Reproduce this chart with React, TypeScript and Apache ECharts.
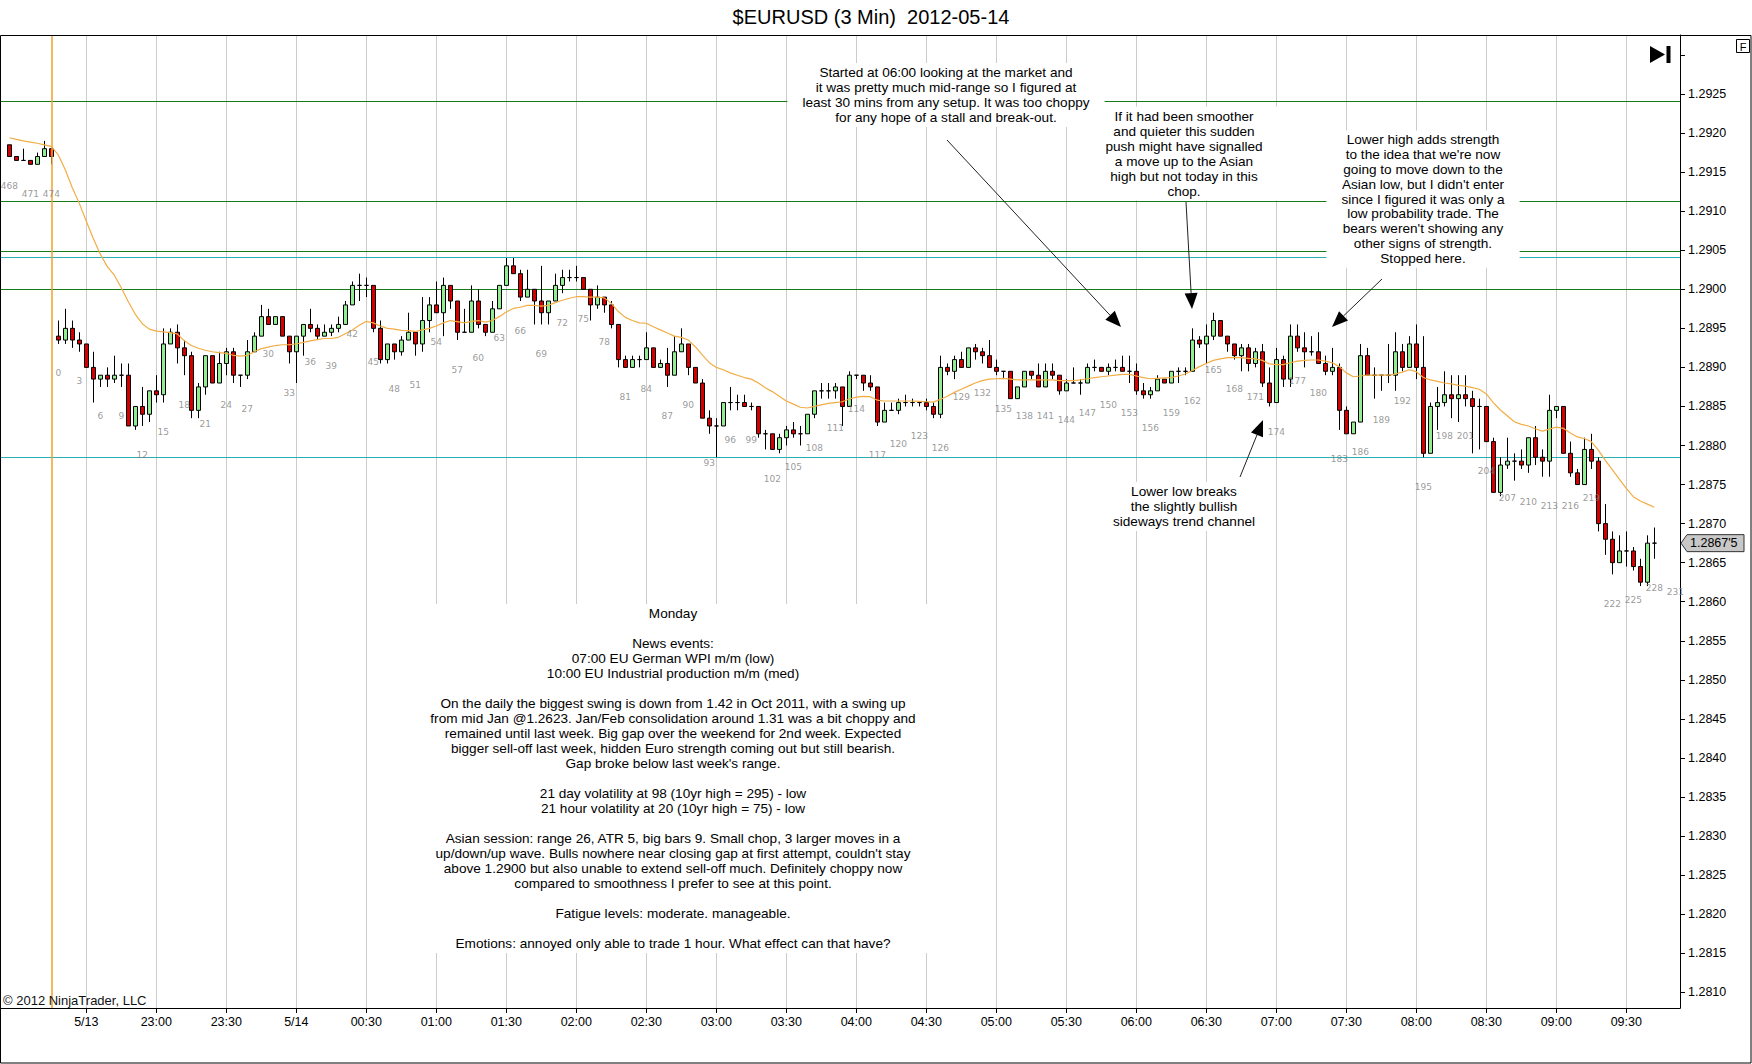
import React, { useEffect, useRef } from "react";
import * as echarts from "echarts";

// ---------------- DATA ----------------
const priorSessionBars = [468, 469, 470, 471, 472, 473, 474];
const sessionBarCount = 232; // bar numbers 0..231 on the axis

// [open, high, low, close]
const priorSessionOHLC: number[][] = [
  [1.29185, 1.29185, 1.2917, 1.2917], [1.2917, 1.2917, 1.29165, 1.29165], [1.29165, 1.2918, 1.29165, 1.29165],
  [1.29165, 1.29165, 1.2916, 1.2916], [1.2916, 1.29175, 1.2916, 1.2917], [1.2917, 1.2919, 1.2917, 1.2918],
  [1.2918, 1.2918, 1.2916, 1.2917],
];

const sessionOHLC: number[][] = [
  [1.2894, 1.2896, 1.2893, 1.28935], [1.28935, 1.28975, 1.2893, 1.2895], [1.2895, 1.2896, 1.28925, 1.28935], [1.28935, 1.28945, 1.2892, 1.2893],
  [1.2893, 1.2893, 1.289, 1.289], [1.289, 1.2892, 1.28855, 1.28885], [1.28885, 1.2889, 1.28875, 1.2889], [1.2889, 1.289, 1.28875, 1.28885],
  [1.28885, 1.28915, 1.2888, 1.2889], [1.2889, 1.28905, 1.28875, 1.2889], [1.2889, 1.28905, 1.28825, 1.28825], [1.28825, 1.2885, 1.2882, 1.2885],
  [1.2885, 1.28875, 1.28825, 1.2884], [1.2884, 1.2887, 1.2883, 1.2887], [1.2887, 1.2889, 1.28855, 1.28865], [1.28865, 1.2895, 1.28855, 1.2893],
  [1.2893, 1.2895, 1.2893, 1.28945], [1.28945, 1.28955, 1.28905, 1.28925], [1.28925, 1.28935, 1.2889, 1.28915], [1.28915, 1.2892, 1.28835, 1.28845],
  [1.28845, 1.2888, 1.28835, 1.28875], [1.28875, 1.28915, 1.28865, 1.28915], [1.28915, 1.28915, 1.2888, 1.2888], [1.2888, 1.2892, 1.2888, 1.28905],
  [1.28905, 1.28925, 1.2889, 1.2892], [1.2892, 1.28925, 1.2888, 1.2889], [1.2889, 1.2889, 1.28875, 1.2889], [1.2889, 1.28935, 1.28885, 1.2892],
  [1.2892, 1.28945, 1.2892, 1.2894], [1.2894, 1.2898, 1.2894, 1.28965], [1.28965, 1.28975, 1.28955, 1.28955], [1.28955, 1.28965, 1.28955, 1.28965],
  [1.28965, 1.28965, 1.2894, 1.2894], [1.2894, 1.2894, 1.28905, 1.2892], [1.2892, 1.2894, 1.2888, 1.2894], [1.2894, 1.28955, 1.28915, 1.28955],
  [1.28955, 1.28975, 1.28945, 1.2895], [1.2895, 1.28955, 1.28935, 1.2894], [1.2894, 1.28955, 1.2894, 1.28945], [1.28945, 1.28955, 1.2894, 1.2895],
  [1.2895, 1.28965, 1.28945, 1.28955], [1.28955, 1.28985, 1.28955, 1.2898], [1.2898, 1.2901, 1.2898, 1.29005], [1.29005, 1.2902, 1.28985, 1.29005],
  [1.29005, 1.29015, 1.2899, 1.29005], [1.29005, 1.29005, 1.28945, 1.2895], [1.2895, 1.2896, 1.28905, 1.2891], [1.2891, 1.2893, 1.28905, 1.2893],
  [1.2893, 1.2893, 1.2891, 1.2892], [1.2892, 1.2894, 1.28915, 1.28935], [1.28935, 1.2897, 1.28935, 1.28945], [1.28945, 1.28945, 1.28915, 1.2893],
  [1.2893, 1.2899, 1.2892, 1.2896], [1.2896, 1.2899, 1.28945, 1.2898], [1.2898, 1.2901, 1.2897, 1.2897], [1.2897, 1.29015, 1.2894, 1.29005],
  [1.29005, 1.29005, 1.28975, 1.28985], [1.28985, 1.28985, 1.28935, 1.28945], [1.28945, 1.28975, 1.28945, 1.28945], [1.28945, 1.29005, 1.28945, 1.28985],
  [1.28985, 1.29, 1.2895, 1.28955], [1.28955, 1.28955, 1.2894, 1.28945], [1.28945, 1.28985, 1.28945, 1.28975], [1.28975, 1.29005, 1.28975, 1.29005],
  [1.29005, 1.2904, 1.29005, 1.2903], [1.2903, 1.2904, 1.2902, 1.2902], [1.2902, 1.29025, 1.28985, 1.2899], [1.2899, 1.29025, 1.2899, 1.29],
  [1.29, 1.29, 1.28955, 1.28985], [1.28985, 1.2903, 1.28955, 1.2897], [1.2897, 1.28985, 1.28955, 1.28985], [1.28985, 1.2902, 1.28985, 1.29005],
  [1.29005, 1.29025, 1.28995, 1.29015], [1.29015, 1.29025, 1.2901, 1.29015], [1.29015, 1.2903, 1.2901, 1.29015], [1.29015, 1.29015, 1.29, 1.29],
  [1.29, 1.29, 1.2896, 1.2898], [1.2898, 1.29005, 1.28975, 1.2899], [1.2899, 1.2899, 1.2897, 1.2898], [1.2898, 1.28985, 1.2895, 1.28955],
  [1.28955, 1.28955, 1.289, 1.2891], [1.2891, 1.28915, 1.289, 1.289], [1.289, 1.28915, 1.289, 1.2891], [1.2891, 1.28915, 1.289, 1.2891],
  [1.2891, 1.28945, 1.2891, 1.28925], [1.28925, 1.28925, 1.289, 1.289], [1.289, 1.2891, 1.289, 1.28905], [1.28905, 1.28925, 1.28875, 1.2889],
  [1.2889, 1.2894, 1.2889, 1.2892], [1.2892, 1.2895, 1.2892, 1.2893], [1.2893, 1.2893, 1.2889, 1.289], [1.289, 1.289, 1.2888, 1.2888],
  [1.2888, 1.28885, 1.28835, 1.28835], [1.28835, 1.28845, 1.28815, 1.28825], [1.28825, 1.28835, 1.28785, 1.28825], [1.28825, 1.28855, 1.28825, 1.28855],
  [1.28855, 1.28875, 1.28845, 1.28855], [1.28855, 1.28865, 1.28845, 1.28855], [1.28855, 1.28865, 1.2885, 1.2885], [1.2885, 1.28855, 1.28845, 1.2885],
  [1.2885, 1.2885, 1.2881, 1.28815], [1.28815, 1.2882, 1.28795, 1.28815], [1.28815, 1.28815, 1.28795, 1.28795], [1.28795, 1.28815, 1.2879, 1.2881],
  [1.2881, 1.28825, 1.288, 1.2882], [1.2882, 1.2883, 1.2881, 1.28815], [1.28815, 1.28825, 1.288, 1.28815], [1.28815, 1.2884, 1.28815, 1.2884],
  [1.2884, 1.2887, 1.28835, 1.2887], [1.2887, 1.2888, 1.2886, 1.2887], [1.2887, 1.2888, 1.2886, 1.2887], [1.2887, 1.2888, 1.2886, 1.28875],
  [1.28875, 1.28875, 1.28825, 1.2885], [1.2885, 1.28895, 1.2885, 1.2889], [1.2889, 1.2889, 1.28885, 1.2889], [1.2889, 1.2889, 1.2887, 1.2888],
  [1.2888, 1.2889, 1.2887, 1.28875], [1.28875, 1.28875, 1.28825, 1.2883], [1.2883, 1.28855, 1.2883, 1.28845], [1.28845, 1.28855, 1.28845, 1.28845],
  [1.28845, 1.2886, 1.2884, 1.28855], [1.28855, 1.28865, 1.2885, 1.28855], [1.28855, 1.2886, 1.2885, 1.28855], [1.28855, 1.28855, 1.2885, 1.28855],
  [1.28855, 1.2886, 1.28845, 1.2885], [1.2885, 1.28855, 1.28835, 1.2884], [1.2884, 1.28915, 1.28835, 1.289], [1.289, 1.28905, 1.2889, 1.28895],
  [1.28895, 1.28915, 1.28885, 1.2891], [1.2891, 1.2892, 1.289, 1.289], [1.289, 1.28925, 1.289, 1.28925], [1.28925, 1.2893, 1.2891, 1.2892],
  [1.2892, 1.28925, 1.28905, 1.28915], [1.28915, 1.28935, 1.289, 1.289], [1.289, 1.2891, 1.2889, 1.28895], [1.28895, 1.28895, 1.28885, 1.28895],
  [1.28895, 1.28895, 1.2886, 1.2886], [1.2886, 1.28875, 1.2886, 1.28875], [1.28875, 1.28895, 1.28875, 1.28895], [1.28895, 1.28895, 1.28885, 1.2889],
  [1.2889, 1.28905, 1.28875, 1.28875], [1.28875, 1.28905, 1.28875, 1.28895], [1.28895, 1.28905, 1.28885, 1.2889], [1.2889, 1.2889, 1.28865, 1.2887],
  [1.2887, 1.28885, 1.2887, 1.2888], [1.2888, 1.289, 1.2888, 1.2888], [1.2888, 1.28885, 1.28865, 1.2888], [1.2888, 1.28905, 1.2888, 1.289],
  [1.289, 1.2891, 1.28895, 1.289], [1.289, 1.289, 1.28895, 1.28895], [1.28895, 1.28905, 1.2889, 1.289], [1.289, 1.2891, 1.28895, 1.289],
  [1.289, 1.28915, 1.28895, 1.28895], [1.28895, 1.28915, 1.2888, 1.28895], [1.28895, 1.28905, 1.28865, 1.2887], [1.2887, 1.2888, 1.2886, 1.28865],
  [1.28865, 1.28875, 1.2886, 1.2887], [1.2887, 1.2889, 1.2887, 1.28885], [1.28885, 1.28885, 1.2888, 1.2888], [1.2888, 1.28895, 1.2888, 1.28895],
  [1.28895, 1.289, 1.2888, 1.28895], [1.28895, 1.289, 1.2889, 1.28895], [1.28895, 1.2895, 1.28895, 1.28935], [1.28935, 1.2894, 1.28925, 1.2893],
  [1.2893, 1.28955, 1.28905, 1.2894], [1.2894, 1.2897, 1.28935, 1.2896], [1.2896, 1.2896, 1.2894, 1.2894], [1.2894, 1.2894, 1.2892, 1.2893],
  [1.2893, 1.2893, 1.2891, 1.28915], [1.28915, 1.2893, 1.28895, 1.28925], [1.28925, 1.2893, 1.28895, 1.28905], [1.28905, 1.28925, 1.289, 1.2892],
  [1.2892, 1.2893, 1.28875, 1.2888], [1.2888, 1.289, 1.2885, 1.28855], [1.28855, 1.28925, 1.28855, 1.2891], [1.2891, 1.28915, 1.28875, 1.28885],
  [1.28885, 1.28955, 1.28875, 1.2894], [1.2894, 1.28955, 1.2892, 1.28925], [1.28925, 1.28945, 1.289, 1.2892], [1.2892, 1.2894, 1.28915, 1.2892],
  [1.2892, 1.28945, 1.28905, 1.28905], [1.28905, 1.28915, 1.2889, 1.28895], [1.28895, 1.28925, 1.2889, 1.289], [1.289, 1.28905, 1.2882, 1.28845],
  [1.28845, 1.2885, 1.28815, 1.28815], [1.28815, 1.2883, 1.28815, 1.2883], [1.2883, 1.2893, 1.2883, 1.28915], [1.28915, 1.28925, 1.2889, 1.2889],
  [1.2889, 1.289, 1.2886, 1.2889], [1.2889, 1.2889, 1.2887, 1.2889], [1.2889, 1.2893, 1.2888, 1.2889], [1.2889, 1.28945, 1.2887, 1.2892],
  [1.2892, 1.2893, 1.28895, 1.289], [1.289, 1.2894, 1.289, 1.2893], [1.2893, 1.28955, 1.28885, 1.289], [1.289, 1.2894, 1.28785, 1.2879],
  [1.2879, 1.28855, 1.2879, 1.2885], [1.2885, 1.28875, 1.2882, 1.28855], [1.28855, 1.28895, 1.2885, 1.28865], [1.28865, 1.2889, 1.28835, 1.2886],
  [1.2886, 1.2889, 1.2883, 1.28865], [1.28865, 1.2889, 1.2885, 1.2886], [1.2886, 1.2887, 1.2879, 1.2885], [1.2885, 1.2886, 1.28795, 1.2885],
  [1.2885, 1.2885, 1.28805, 1.28805], [1.28805, 1.2881, 1.2874, 1.2874], [1.2874, 1.28785, 1.28735, 1.28775], [1.28775, 1.2881, 1.2877, 1.2878],
  [1.2878, 1.2879, 1.28755, 1.2878], [1.2878, 1.28795, 1.2877, 1.28775], [1.28775, 1.2881, 1.28765, 1.2881], [1.2881, 1.28825, 1.28775, 1.28785],
  [1.28785, 1.28795, 1.2876, 1.2878], [1.2878, 1.28865, 1.2876, 1.28845], [1.28845, 1.2885, 1.28835, 1.2885], [1.2885, 1.2885, 1.2879, 1.2879],
  [1.2879, 1.28805, 1.2876, 1.28765], [1.28765, 1.2877, 1.2875, 1.2875], [1.2875, 1.2881, 1.2875, 1.28795], [1.28795, 1.28815, 1.2877, 1.2878],
  [1.2878, 1.28785, 1.2869, 1.287], [1.287, 1.28725, 1.2866, 1.2868], [1.2868, 1.2869, 1.28635, 1.2865], [1.2865, 1.28685, 1.2865, 1.28665],
  [1.28665, 1.2869, 1.28645, 1.28665], [1.28665, 1.2867, 1.2864, 1.28645], [1.28645, 1.28655, 1.2862, 1.28625], [1.28625, 1.28685, 1.2862, 1.28675],
  [1.28675, 1.28695, 1.28655, 1.28675],
];

// orange moving-average line, one value per drawn bar (468..474, 0..228)
const emaValues: number[] = [
  1.29194, 1.29192, 1.2919, 1.291885, 1.29187, 1.29185, 1.29183,
  1.29172, 1.29153, 1.2913, 1.2911, 1.29087, 1.29065, 1.29045, 1.29029, 1.29018, 1.29002,
  1.28984, 1.28968, 1.28956, 1.28949, 1.289465, 1.289455, 1.289445, 1.28943, 1.28934, 1.28928,
  1.289245, 1.28922, 1.2892, 1.28919, 1.28918, 1.289155, 1.289145, 1.289155, 1.2892, 1.28924,
  1.28926, 1.28928, 1.28929, 1.28929, 1.2893, 1.28932, 1.28934, 1.289355, 1.28937, 1.28937,
  1.289385, 1.28943, 1.28948, 1.28954, 1.28959, 1.28957, 1.28953, 1.2895, 1.28949, 1.289475,
  1.28947, 1.28946, 1.28948, 1.2895, 1.28953, 1.28957, 1.2896, 1.289585, 1.28957, 1.28959,
  1.2896, 1.28958, 1.2896, 1.28965, 1.28971, 1.289755, 1.28977, 1.289795, 1.289795, 1.289785,
  1.289795, 1.28983, 1.28986, 1.289885, 1.289905, 1.289905, 1.2899, 1.2899, 1.28989, 1.28982,
  1.289715, 1.28964, 1.2896, 1.28957, 1.289565, 1.28952, 1.28948, 1.28944, 1.2894, 1.289385,
  1.28935, 1.289265, 1.28916, 1.28906, 1.289, 1.28897, 1.28893, 1.2889, 1.28887, 1.28885,
  1.2888, 1.28874, 1.28869, 1.28863, 1.28857, 1.28853, 1.28849, 1.28848, 1.2885, 1.28852,
  1.28854, 1.28855, 1.28856, 1.288595, 1.28862, 1.28863, 1.288625, 1.28858, 1.28857, 1.28857,
  1.28857, 1.28857, 1.28857, 1.288565, 1.28856, 1.288555, 1.28859, 1.28863, 1.28868, 1.28872,
  1.28876, 1.2888, 1.28883, 1.28885, 1.288855, 1.28886, 1.28885, 1.28884, 1.28884, 1.28884,
  1.28884, 1.28884, 1.28884, 1.28883, 1.28883, 1.28883, 1.28884, 1.288855, 1.28887, 1.28888,
  1.28889, 1.2889, 1.28891, 1.28891, 1.28889, 1.28887, 1.288855, 1.28886, 1.288865, 1.28887,
  1.28889, 1.288915, 1.28896, 1.28901, 1.28905, 1.28909, 1.28911, 1.289125, 1.289125, 1.289125,
  1.289115, 1.28911, 1.28909, 1.289045, 1.289035, 1.289035, 1.28906, 1.28908, 1.28909, 1.289095,
  1.289095, 1.28908, 1.28906, 1.28901, 1.28893, 1.28888, 1.28889, 1.2889, 1.2889, 1.2889,
  1.2889, 1.288915, 1.28894, 1.28897, 1.288945, 1.28887, 1.28884, 1.28882, 1.2888, 1.28879,
  1.28877, 1.28876, 1.28874, 1.28872, 1.28866, 1.28855, 1.288455, 1.28838, 1.288305, 1.28827,
  1.28825, 1.288215, 1.288185, 1.28821, 1.288235, 1.28822, 1.28816, 1.28811, 1.28809, 1.28805,
  1.28794, 1.28781, 1.28769, 1.28757, 1.28745, 1.287345, 1.28729, 1.28725, 1.28721,
];

const timeTickLabels = [
  "5/13", "23:00", "23:30", "5/14", "00:30", "01:00", "01:30", "02:00", "02:30", "03:00", "03:30", "04:00",
  "04:30", "05:00", "05:30", "06:00", "06:30", "07:00", "07:30", "08:00", "08:30", "09:00", "09:30",
];
const firstTickBar = 4;
const barsPerTick = 10;
const barNumberStep = 3;

const yLabelValues = [
  1.281, 1.2815, 1.282, 1.2825, 1.283, 1.2835, 1.284, 1.2845, 1.285, 1.2855, 1.286, 1.2865,
  1.287, 1.2875, 1.288, 1.2885, 1.289, 1.2895, 1.29, 1.2905, 1.291, 1.2915, 1.292, 1.2925,
];
const yTickValues = [...yLabelValues, 1.293];

const greenLevels = [1.2924, 1.29113, 1.29048, 1.29];
const tealLevels = [1.29041, 1.28785];
const sessionBreakBar = 474;
const lastBarNumber = 231;
const lastBarNumberAnchor = 1.2865;

// ---------------- TEXT ----------------
const note1 = [
  "Started at 06:00 looking at the market and",
  "it was pretty much mid-range so I figured at",
  "least 30 mins from any setup. It was too choppy",
  "for any hope of a stall and break-out.",
];
const note2 = [
  "If it had been smoother",
  "and quieter this sudden",
  "push might have signalled",
  "a move up to the Asian",
  "high but not today in this",
  "chop.",
];
const note3 = [
  "Lower high adds strength",
  "to the idea that we're now",
  "going to move down to the",
  "Asian low, but I didn't enter",
  "since I figured it was only a",
  "low probability trade. The",
  "bears weren't showing any",
  "other signs of strength.",
  "Stopped here.",
];
const note4 = ["Lower low breaks", "the slightly bullish", "sideways trend channel"];
const mainNote = [
  "Monday",
  "",
  "News events:",
  "07:00 EU German WPI m/m (low)",
  "10:00 EU Industrial production m/m (med)",
  "",
  "On the daily the biggest swing is down from 1.42 in Oct 2011, with a swing up",
  "from mid Jan @1.2623. Jan/Feb consolidation around 1.31 was a bit choppy and",
  "remained until last week. Big gap over the weekend for 2nd week. Expected",
  "bigger sell-off last week, hidden Euro strength coming out but still bearish.",
  "Gap broke below last week's range.",
  "",
  "21 day volatility at 98 (10yr high = 295) - low",
  "21 hour volatility at 20 (10yr high = 75) - low",
  "",
  "Asian session: range 26, ATR 5, big bars 9. Small chop, 3 larger moves in a",
  "up/down/up wave. Bulls nowhere near closing gap at first attempt, couldn't stay",
  "above 1.2900 but also unable to extend sell-off much. Definitely choppy now",
  "compared to smoothness I prefer to see at this point.",
  "",
  "Fatigue levels: moderate. manageable.",
  "",
  "Emotions: annoyed only able to trade 1 hour. What effect can that have?",
];

const FONT = '"Liberation Sans", Arial, sans-serif';
const NOTE_FONT_SIZE = 13.6;
const W = 1752;
const H = 1064;
const PLOT_RIGHT = 1680;
const PLOT_TOP = 35;
const PLOT_BOTTOM = 1008;

function noteText(lines: string[], cx: number, firstLineY: number, lh: number) {
  return {
    type: "text",
    x: cx,
    y: firstLineY - lh / 2 - 2,
    z: 90,
    silent: true,
    style: {
      text: lines.join("\n"),
      fill: "#000",
      fontSize: NOTE_FONT_SIZE,
      fontFamily: FONT,
      align: "center",
      textAlign: "center",
      verticalAlign: "top",
      textVerticalAlign: "top",
      lineHeight: lh,
      backgroundColor: "#fff",
      padding: [2, 15],
    },
  };
}

function arrow(x1: number, y1: number, x2: number, y2: number) {
  const dx = x2 - x1;
  const dy = y2 - y1;
  const len = Math.hypot(dx, dy);
  const ux = dx / len;
  const uy = dy / len;
  const hl = 16;
  const hw = 6.5;
  const bx = x2 - ux * hl;
  const by = y2 - uy * hl;
  return [
    { type: "line", z: 100, silent: true, shape: { x1, y1, x2: bx, y2: by }, style: { stroke: "#222", lineWidth: 1 } },
    {
      type: "polygon",
      z: 100,
      silent: true,
      shape: { points: [[x2, y2], [bx - uy * hw, by + ux * hw], [bx + uy * hw, by - ux * hw]] },
      style: { fill: "#000" },
    },
  ];
}

export default function App() {
  const ref = useRef<HTMLDivElement>(null);

  useEffect(() => {
    if (!ref.current) return;
    const chart = echarts.init(ref.current, null, { renderer: "svg" });

    const barNumbers = [...priorSessionBars, ...Array.from({ length: sessionBarCount }, (_, i) => i)];
    const categories = barNumbers.map(String);
    const allOHLC = [...priorSessionOHLC, ...sessionOHLC];
    const candleData = allOHLC.map(([o, h, l, c]) => [o, c, l, h]);
    const tickStart = priorSessionBars.length + firstTickBar;
    const isTick = (i: number) =>
      i >= tickStart && (i - tickStart) % barsPerTick === 0 && (i - tickStart) / barsPerTick < timeTickLabels.length;

    const labelData: any[] = [];
    barNumbers.forEach((n, k) => {
      if (n % barNumberStep !== 0) return;
      if (k < allOHLC.length) labelData.push([k, allOHLC[k][2], n]);
    });
    labelData.push([barNumbers.indexOf(lastBarNumber), lastBarNumberAnchor, lastBarNumber]);

    // grid: first category at x=9.3, last at x=1675.3 (7px per bar)
    const gridLeft = 9.3;
    const gridRight = W - 1675.3;

    chart.setOption({
      animation: false,
      backgroundColor: "#fff",
      grid: { left: gridLeft, right: gridRight, top: PLOT_TOP, bottom: H - PLOT_BOTTOM, containLabel: false },
      xAxis: {
        type: "category",
        data: categories,
        boundaryGap: false,
        axisLine: { show: false },
        axisTick: { show: true, interval: (i: number) => isTick(i), length: 5, lineStyle: { color: "#000" } },
        axisLabel: {
          show: true,
          interval: (i: number) => isTick(i),
          formatter: (_v: string, i: number) => (isTick(i) ? timeTickLabels[(i - tickStart) / barsPerTick] : ""),
          color: "#000",
          fontSize: 12.5,
          fontFamily: FONT,
          margin: 7,
          hideOverlap: false,
        },
        splitLine: { show: true, interval: (i: number) => isTick(i), lineStyle: { color: "#cccccc", width: 1 } },
      },
      yAxis: {
        type: "value",
        position: "right",
        min: 1.2807986,
        max: 1.2932556,
        offset: PLOT_RIGHT - (W - gridRight),
        axisLine: { show: true, lineStyle: { color: "#000", width: 1 } },
        axisTick: { show: true, length: 5, customValues: yTickValues, lineStyle: { color: "#000" } },
        axisLabel: {
          show: true,
          customValues: yLabelValues,
          formatter: (v: number) => v.toFixed(4),
          color: "#000",
          fontSize: 12.5,
          fontFamily: FONT,
          margin: 8,
        },
        splitLine: { show: false },
      },
      series: [
        {
          type: "candlestick",
          data: candleData,
          barWidth: 4,
          clip: false,
          z: 3,
          silent: true,
          itemStyle: {
            color: "#90EE90",
            color0: "#D40000",
            borderColor: "#000",
            borderColor0: "#000",
            borderColorDoji: "#000",
            borderWidth: 1,
          },
          markLine: {
            silent: true,
            symbol: ["none", "none"],
            label: { show: false },
            lineStyle: { color: "#F0A030", type: "solid", width: 1.5 },
            data: [{ xAxis: String(sessionBreakBar) }],
          },
        },
        {
          type: "line",
          data: emaValues,
          showSymbol: false,
          symbol: "none",
          silent: true,
          z: 4,
          lineStyle: { color: "#F2AD45", width: 1.2 },
        },
        {
          type: "scatter",
          data: labelData,
          symbolSize: 1,
          silent: true,
          z: 5,
          itemStyle: { color: "rgba(0,0,0,0)" },
          label: {
            show: true,
            position: "bottom",
            distance: 24.5,
            formatter: (p: any) => String(p.value[2]),
            color: "#808080",
            fontSize: 9,
            fontFamily: '"DejaVu Sans", Verdana, sans-serif',
          },
        },
      ],
    });

    const yPix = (v: number) => chart.convertToPixel({ yAxisIndex: 0 }, v) as number;
    const crisp = (y: number) => Math.round(y - 0.5) + 0.5;

    const levelLines = [
      ...greenLevels.map((v) => ({ v, c: "#167A16" })),
      ...tealLevels.map((v) => ({ v, c: "#2AAFB0" })),
    ].map(({ v, c }) => ({
      type: "line",
      z: 1,
      silent: true,
      shape: { x1: 0, y1: crisp(yPix(v)), x2: PLOT_RIGHT, y2: crisp(yPix(v)) },
      style: { stroke: c, lineWidth: 1 },
    }));

    const lastClose = sessionOHLC[sessionOHLC.length - 1][3];
    const yc = yPix(lastClose);
    const s = lastClose.toFixed(5);
    const priceText = s.slice(0, 6) + "'" + s.slice(6);

    chart.setOption({
      graphic: [
        ...levelLines,
        {
          type: "rect",
          z: 50,
          silent: true,
          shape: { x: 0.5, y: PLOT_TOP + 0.5, width: W - 1.5, height: H - PLOT_TOP - 1.5 },
          style: { fill: "none", stroke: "#000", lineWidth: 1 },
        },
        {
          type: "line",
          z: 50,
          silent: true,
          shape: { x1: 0, y1: PLOT_BOTTOM + 0.5, x2: PLOT_RIGHT + 0.5, y2: PLOT_BOTTOM + 0.5 },
          style: { stroke: "#000", lineWidth: 1 },
        },
        {
          type: "text",
          x: 871,
          y: 17,
          z: 50,
          silent: true,
          style: {
            text: "$EURUSD (3 Min)  2012-05-14",
            fill: "#000",
            fontSize: 20,
            fontFamily: FONT,
            align: "center",
            textAlign: "center",
            verticalAlign: "middle",
            textVerticalAlign: "middle",
          },
        },
        {
          type: "text",
          x: 3,
          y: 1000,
          z: 50,
          silent: true,
          style: {
            text: "\u00A9 2012 NinjaTrader, LLC",
            fill: "#111",
            fontSize: 13,
            fontFamily: FONT,
            align: "left",
            textAlign: "left",
            verticalAlign: "middle",
            textVerticalAlign: "middle",
          },
        },
        // F box
        {
          type: "rect",
          z: 50,
          silent: true,
          shape: { x: 1736.5, y: 39.5, width: 13, height: 13 },
          style: { fill: "#fff", stroke: "#000", lineWidth: 1 },
        },
        {
          type: "text",
          x: 1743,
          y: 46.5,
          z: 51,
          silent: true,
          style: {
            text: "F",
            fill: "#000",
            fontSize: 11,
            fontFamily: FONT,
            align: "center",
            textAlign: "center",
            verticalAlign: "middle",
            textVerticalAlign: "middle",
          },
        },
        // go-to-end icon
        {
          type: "polygon",
          z: 50,
          silent: true,
          shape: { points: [[1650, 46], [1650, 63], [1665, 54.5]] },
          style: { fill: "#000" },
        },
        { type: "rect", z: 50, silent: true, shape: { x: 1666.5, y: 46, width: 4, height: 17 }, style: { fill: "#000" } },
        // last price marker
        {
          type: "polygon",
          z: 60,
          silent: true,
          shape: {
            points: [
              [1681, yc],
              [1687, yc - 8.5],
              [1744, yc - 8.5],
              [1744, yc + 8.5],
              [1687, yc + 8.5],
            ],
          },
          style: { fill: "#C8C8C8", stroke: "#333", lineWidth: 1 },
        },
        {
          type: "text",
          x: 1690,
          y: yc,
          z: 61,
          silent: true,
          style: {
            text: priceText,
            fill: "#000",
            fontSize: 12.5,
            fontFamily: FONT,
            align: "left",
            textAlign: "left",
            verticalAlign: "middle",
            textVerticalAlign: "middle",
          },
        },
        // annotations
        noteText(note1, 946, 72.6, 15),
        noteText(note2, 1184, 116, 15),
        noteText(note3, 1423, 140, 14.8),
        noteText(note4, 1184, 491.6, 15),
        noteText(mainNote, 673, 613.4, 15),
        ...arrow(947, 140, 1121, 327),
        ...arrow(1186, 202, 1192, 309),
        ...arrow(1382, 279, 1332, 327),
        ...arrow(1240, 477, 1263, 420),
      ],
    });

    return () => chart.dispose();
  }, []);

  return (
    <div
      ref={ref}
      style={{ position: "fixed", left: 0, top: 0, width: W, height: H, background: "#fff" }}
    />
  );
}
